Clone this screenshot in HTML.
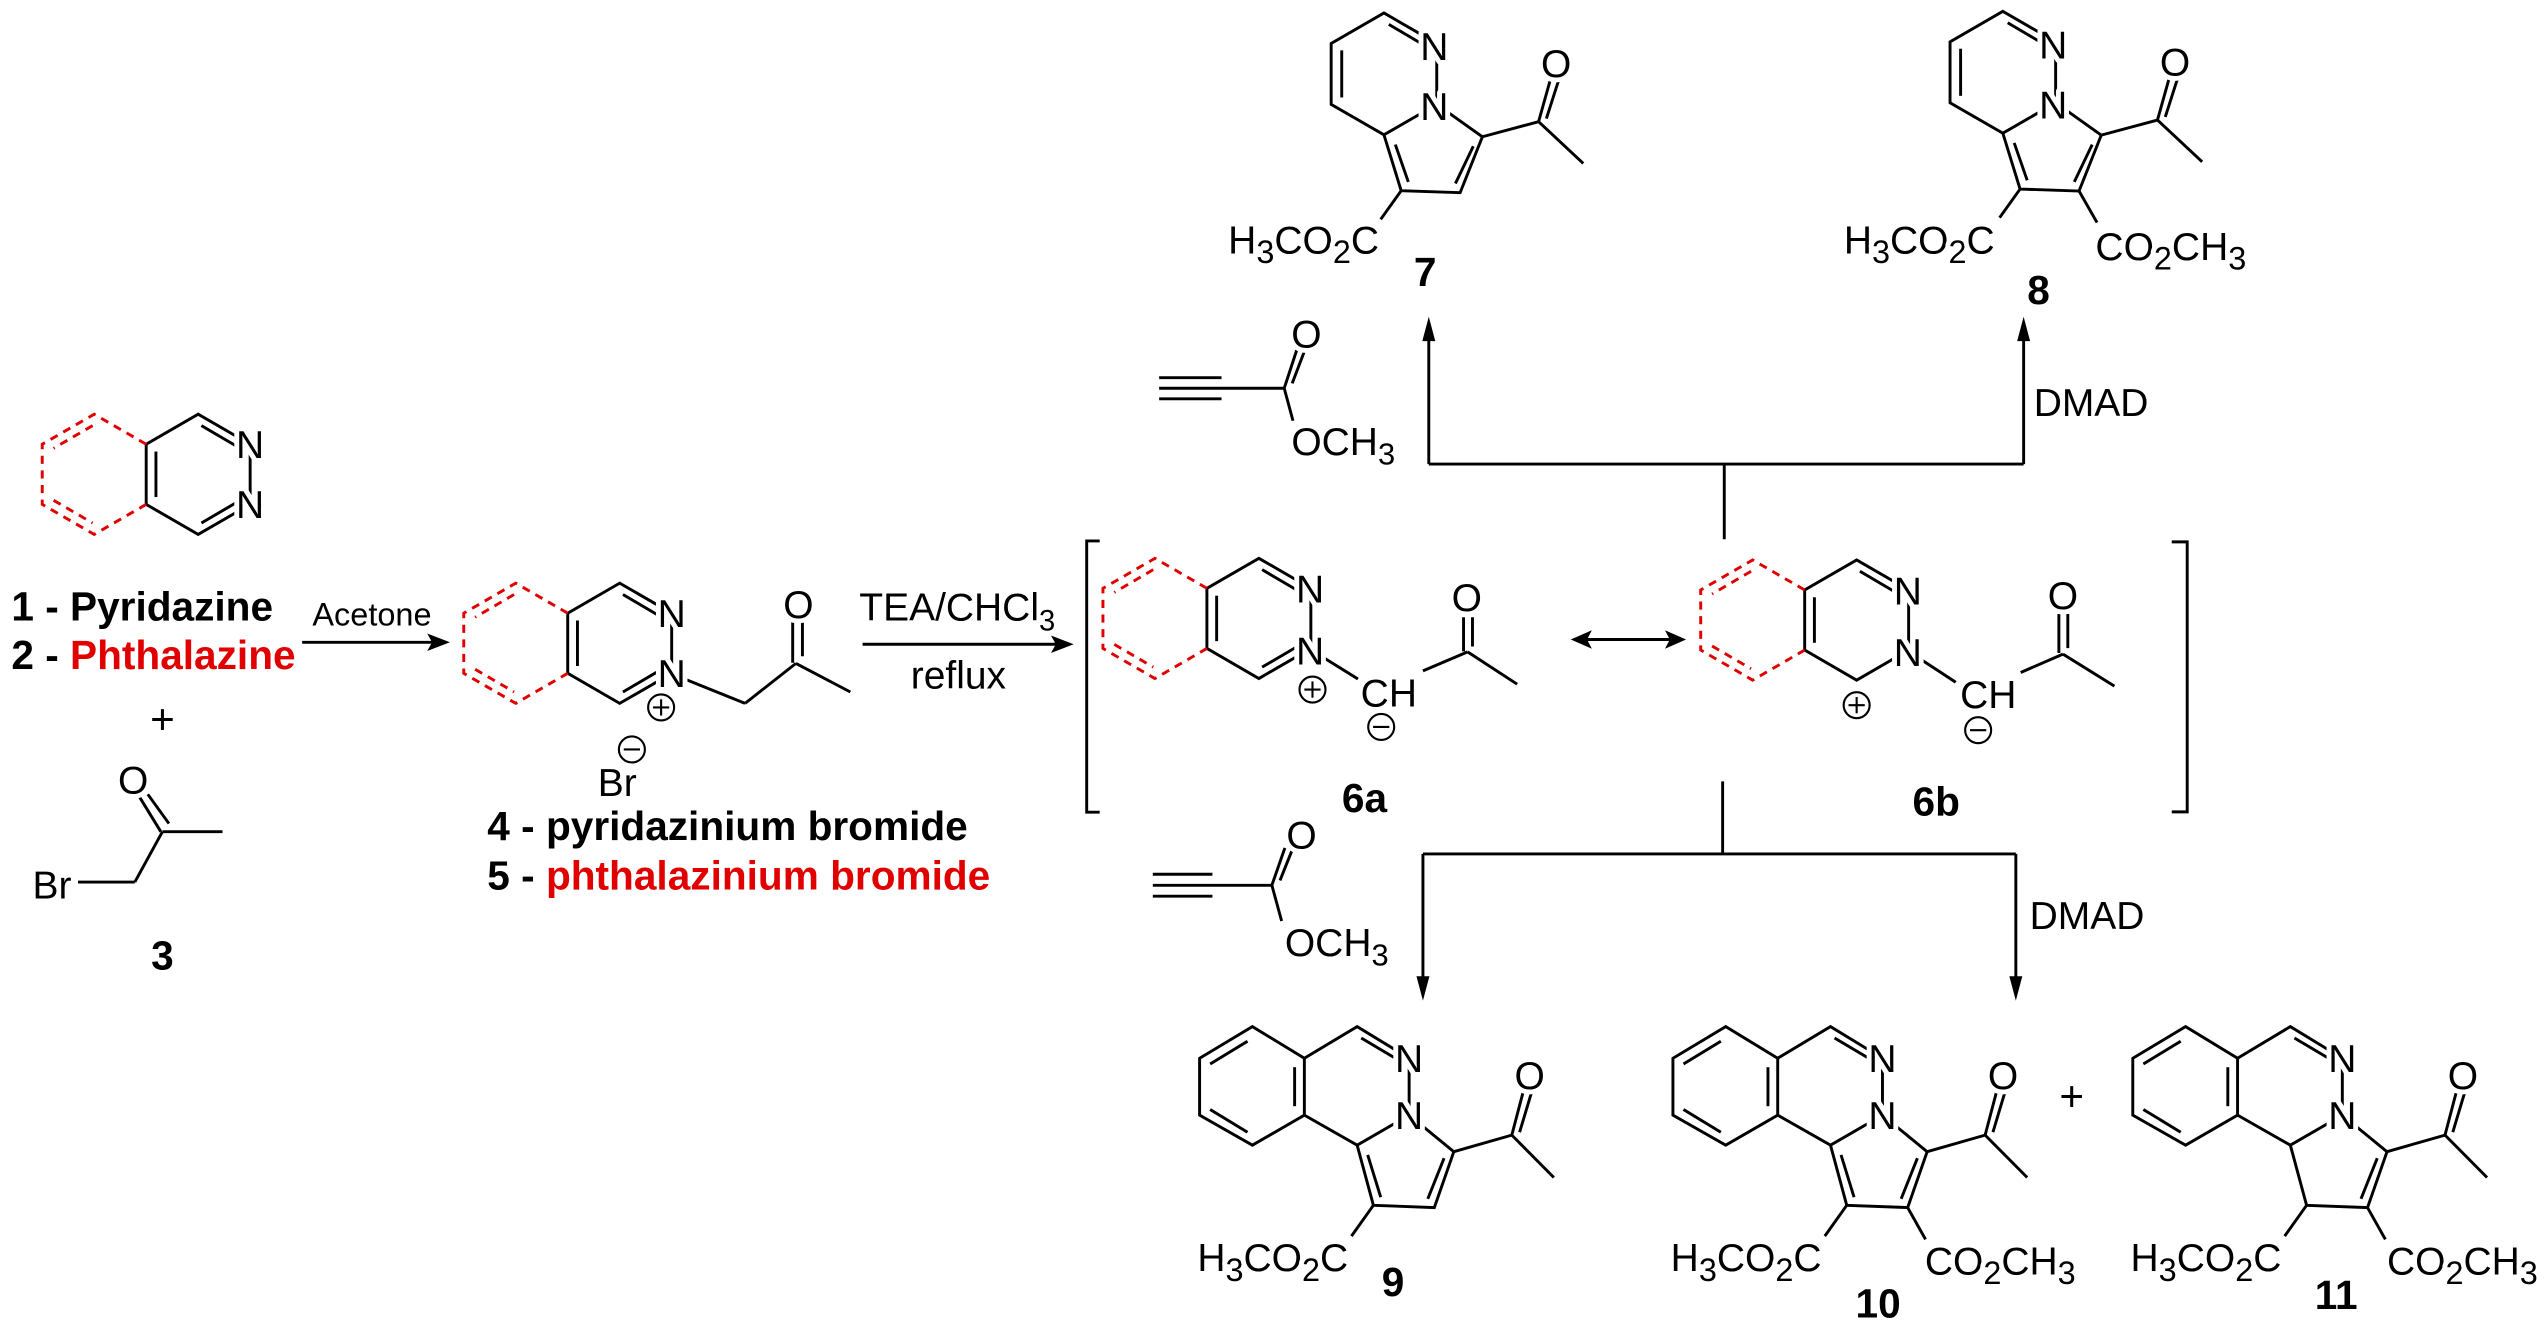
<!DOCTYPE html>
<html><head><meta charset="utf-8"><style>
html,body{margin:0;padding:0;background:#fff;}
svg{display:block;}
text{font-family:"Liberation Sans",Arial,sans-serif;font-size:24px;fill:#000;}
.h{paint-order:stroke;stroke:#fff;stroke-width:6px;stroke-linejoin:round;}
.b{font-weight:bold;font-size:25px;}
.r{fill:#e00000;}
line,polyline{stroke:#000;stroke-width:1.8;fill:none;stroke-linecap:butt;}
.rd{stroke:#e00000;stroke-dasharray:5,4;stroke-width:1.8;fill:none;}
.c{fill:#fff;stroke:#000;stroke-width:1.3;}
</style></head><body>
<svg width="2547" height="1338" viewBox="0 0 1568 823.7" preserveAspectRatio="none" xmlns="http://www.w3.org/2000/svg">

<!-- Compound 1/2 ring -->
<g id="ring1">
<polyline points="154,273.5 122,255 90,273.5 90,310.5 122,329 154,310.5"/>
<line x1="154" y1="273.5" x2="154" y2="310.5"/>
<line x1="124" y1="262" x2="147" y2="275.5"/><line x1="147" y1="308.5" x2="124" y2="322"/>
<line x1="96" y1="278" x2="96" y2="306"/>
<polyline class="rd" points="90,273.5 58,255 26,273.5 26,310.5 58,329 90,310.5"/>
<line class="rd" x1="57" y1="262" x2="33" y2="276"/><line class="rd" x1="33" y1="308" x2="57" y2="322"/>
<text class="h" x="154" y="282" text-anchor="middle">N</text>
<text class="h" x="154" y="319" text-anchor="middle">N</text>
</g>
<text class="b" x="7" y="382">1 - Pyridazine</text>
<text class="b" x="7" y="412">2 - <tspan class="r">Phthalazine</tspan></text>
<text x="100" y="452" text-anchor="middle" style="font-size:26px">+</text>

<!-- bromoacetone -->
<line x1="100" y1="512" x2="137" y2="512"/>
<line x1="100" y1="512" x2="83" y2="543"/>
<line x1="83" y1="543" x2="48" y2="543"/>
<line x1="99" y1="512" x2="85.5" y2="490"/>
<line x1="104" y1="507" x2="91" y2="489"/>
<text class="h" x="82" y="488.5" text-anchor="middle">O</text>
<text class="h" x="32" y="553" text-anchor="middle">Br</text>
<text class="b" x="100" y="597" text-anchor="middle">3</text>

<!-- Acetone arrow -->
<text x="229" y="385" text-anchor="middle" style="font-size:20px">Acetone</text>
<line x1="186" y1="395.4" x2="268" y2="395.4"/>
<polygon points="277,395.4 263,390 266,395.4 263,400.8"/>

<!-- Compound 4 -->
<g transform="translate(259.5,104)">
<polyline points="154,273.5 122,255 90,273.5 90,310.5 122,329 154,310.5"/>
<line x1="154" y1="273.5" x2="154" y2="310.5"/>
<line x1="124" y1="262" x2="147" y2="275.5"/><line x1="147" y1="308.5" x2="124" y2="322"/>
<line x1="96" y1="278" x2="96" y2="306"/>
<polyline class="rd" points="90,273.5 58,255 26,273.5 26,310.5 58,329 90,310.5"/>
<line class="rd" x1="57" y1="262" x2="33" y2="276"/><line class="rd" x1="33" y1="308" x2="57" y2="322"/>
</g>
<line x1="414" y1="415" x2="458.7" y2="433"/>
<line x1="458.7" y1="433" x2="490" y2="408.4"/>
<line x1="490" y1="408.4" x2="523.5" y2="426"/>
<line x1="488" y1="408" x2="488" y2="381"/>
<line x1="494" y1="404" x2="494" y2="381"/>
<text class="h" x="413.5" y="386" text-anchor="middle">N</text>
<text class="h" x="413.5" y="423" text-anchor="middle">N</text>
<text class="h" x="491.5" y="380.5" text-anchor="middle">O</text>
<circle class="c" cx="407" cy="435.5" r="8"/><line x1="402" y1="435.5" x2="412" y2="435.5" style="stroke-width:1.3"/><line x1="407" y1="430.5" x2="407" y2="440.5" style="stroke-width:1.3"/>
<circle class="c" cx="389" cy="461.4" r="8"/><line x1="384" y1="461.4" x2="394" y2="461.4" style="stroke-width:1.3"/>
<text class="h" x="380" y="490" text-anchor="middle">Br</text>
<text class="b" x="300" y="517">4 - pyridazinium bromide</text>
<text class="b" x="300" y="547.5">5 - <tspan class="r">phthalazinium bromide</tspan></text>

<!-- TEA arrow -->
<text x="529" y="382">TEA/CHCl<tspan dy="6" style="font-size:18px">3</tspan></text>
<text x="590" y="424" text-anchor="middle">reflux</text>
<line x1="531" y1="396.6" x2="652" y2="396.6"/>
<polygon points="661,396.6 647,391.2 650,396.6 647,402"/>

<!-- Brackets -->
<polyline points="677,333 669,333 669,500 677,500"/>
<polyline points="1337,333.6 1346.5,333.6 1346.5,499.8 1337,499.8"/>

<!-- 6a -->
<g transform="translate(653,88.7)">
<polyline points="154,273.5 122,255 90,273.5 90,310.5 122,329 154,310.5"/>
<line x1="154" y1="273.5" x2="154" y2="310.5"/>
<line x1="124" y1="262" x2="147" y2="275.5"/><line x1="147" y1="308.5" x2="124" y2="322"/>
<line x1="96" y1="278" x2="96" y2="306"/>
<polyline class="rd" points="90,273.5 58,255 26,273.5 26,310.5 58,329 90,310.5"/>
<line class="rd" x1="57" y1="262" x2="33" y2="276"/><line class="rd" x1="33" y1="308" x2="57" y2="322"/>
</g>
<line x1="807" y1="400" x2="836" y2="418"/>
<line x1="876" y1="413" x2="903.5" y2="401.3"/>
<line x1="903.5" y1="401.3" x2="934" y2="421.2"/>
<line x1="901" y1="401" x2="901" y2="380"/>
<line x1="906.5" y1="398" x2="906.5" y2="380"/>
<text class="h" x="806.5" y="371" text-anchor="middle">N</text>
<text class="h" x="806.5" y="409" text-anchor="middle">N</text>
<text class="h" x="855" y="435" text-anchor="middle">CH</text>
<text class="h" x="903" y="376" text-anchor="middle">O</text>
<circle class="c" cx="808" cy="424.5" r="8"/><line x1="803" y1="424.5" x2="813" y2="424.5" style="stroke-width:1.3"/><line x1="808" y1="419.5" x2="808" y2="429.5" style="stroke-width:1.3"/>
<circle class="c" cx="850.3" cy="447.5" r="8"/><line x1="845.3" y1="447.5" x2="855.3" y2="447.5" style="stroke-width:1.3"/>
<text class="b" x="840" y="500" text-anchor="middle">6a</text>

<!-- double arrow -->
<line x1="975" y1="393.7" x2="1030" y2="393.7"/>
<polygon points="967,393.7 980,388 977,393.7 980,399.4"/>
<polygon points="1038,393.7 1025,388 1028,393.7 1025,399.4"/>

<!-- 6b -->
<g transform="translate(1021,89.7)">
<polyline points="154,273.5 122,255 90,273.5 90,310.5 122,329 154,310.5"/>
<line x1="154" y1="273.5" x2="154" y2="310.5"/>
<line x1="124" y1="262" x2="147" y2="275.5"/>
<line x1="96" y1="278" x2="96" y2="306"/>
<polyline class="rd" points="90,273.5 58,255 26,273.5 26,310.5 58,329 90,310.5"/>
<line class="rd" x1="57" y1="262" x2="33" y2="276"/><line class="rd" x1="33" y1="308" x2="57" y2="322"/>
</g>
<line x1="1175" y1="401" x2="1204" y2="420"/>
<line x1="1244" y1="414" x2="1270" y2="402.7"/>
<line x1="1270" y1="402.7" x2="1301.7" y2="422.4"/>
<line x1="1267.5" y1="402" x2="1267.5" y2="378"/>
<line x1="1273" y1="399" x2="1273" y2="378"/>
<text class="h" x="1174.5" y="372" text-anchor="middle">N</text>
<text class="h" x="1174.5" y="410" text-anchor="middle">N</text>
<text class="h" x="1224" y="436" text-anchor="middle">CH</text>
<text class="h" x="1270" y="375" text-anchor="middle">O</text>
<circle class="c" cx="1143" cy="434.1" r="8"/><line x1="1138" y1="434.1" x2="1148" y2="434.1" style="stroke-width:1.3"/><line x1="1143" y1="429.1" x2="1143" y2="439.1" style="stroke-width:1.3"/>
<circle class="c" cx="1217.8" cy="449.5" r="8"/><line x1="1212.8" y1="449.5" x2="1222.8" y2="449.5" style="stroke-width:1.3"/>
<text class="b" x="1192" y="502" text-anchor="middle">6b</text>

<!-- upper arrows -->
<line x1="1061.5" y1="332" x2="1061.5" y2="285.7"/>
<line x1="879.6" y1="285.7" x2="1245.8" y2="285.7"/>
<line x1="879.6" y1="285.7" x2="879.6" y2="205"/>
<line x1="1245.8" y1="285.7" x2="1245.8" y2="205"/>
<polygon points="879.6,195 875.6,210 883.6,210"/>
<polygon points="1245.8,195 1241.8,210 1249.8,210"/>
<text x="1252" y="256">DMAD</text>

<!-- top methyl propiolate -->
<line x1="713.6" y1="232.5" x2="752" y2="232.5"/>
<line x1="713.6" y1="239" x2="790.6" y2="239"/>
<line x1="713.6" y1="245.5" x2="752" y2="245.5"/>
<line x1="790.6" y1="239" x2="798.8" y2="214"/>
<line x1="795.5" y1="236" x2="803.5" y2="215"/>
<line x1="790.6" y1="239" x2="796" y2="259"/>
<text class="h" x="804.3" y="214" text-anchor="middle">O</text>
<text class="h" x="795" y="280">OCH<tspan dy="6" style="font-size:19px">3</tspan></text>

<!-- bottom methyl propiolate -->
<line x1="709.7" y1="538.2" x2="746.4" y2="538.2"/>
<line x1="709.7" y1="545" x2="783" y2="545"/>
<line x1="709.7" y1="551.7" x2="746.4" y2="551.7"/>
<line x1="783" y1="545" x2="791" y2="522"/>
<line x1="788" y1="542" x2="796" y2="522"/>
<line x1="783" y1="545" x2="789" y2="567"/>
<text class="h" x="801.3" y="522.5" text-anchor="middle">O</text>
<text class="h" x="791" y="588.5">OCH<tspan dy="6" style="font-size:19px">3</tspan></text>

<!-- lower arrows -->
<line x1="1060.5" y1="481" x2="1060.5" y2="525.7"/>
<line x1="876" y1="525.7" x2="1241" y2="525.7"/>
<line x1="876" y1="525.7" x2="876" y2="606"/>
<line x1="1241" y1="525.7" x2="1241" y2="606"/>
<polygon points="876,616 872,601 880,601"/>
<polygon points="1241,616 1237,601 1245,601"/>
<text x="1249.5" y="572">DMAD</text>

<!-- Compound 7 -->
<g id="c7">
<polyline points="884.5,26.75 852,8 819.5,26.75 819.5,64.25 852,83 884.5,64.25"/>
<line x1="884.5" y1="26.75" x2="884.5" y2="64.25"/>
<line x1="855" y1="15" x2="877" y2="28"/>
<line x1="826" y1="31" x2="826" y2="60"/>
<polyline points="884.5,64.25 912.6,84.2 898.9,118.6 862.6,117.4 852,83"/>
<line x1="907" y1="90" x2="896" y2="113"/>
<line x1="859" y1="89" x2="867" y2="112"/>
<line x1="912.6" y1="84.2" x2="947.2" y2="74.9"/>
<line x1="947.2" y1="74.9" x2="974.7" y2="100.6"/>
<line x1="947.2" y1="74.9" x2="955" y2="47"/>
<line x1="952" y1="73" x2="960" y2="48"/>
<line x1="862.6" y1="117.4" x2="850" y2="135"/>
<text class="h" x="883" y="37" text-anchor="middle">N</text>
<text class="h" x="883" y="74" text-anchor="middle">N</text>
<text class="h" x="958" y="47.5" text-anchor="middle">O</text>
<text class="h" x="849" y="156" text-anchor="end">H<tspan dy="6" style="font-size:20px">3</tspan><tspan dy="-6">CO</tspan><tspan dy="6" style="font-size:20px">2</tspan><tspan dy="-6">C</tspan></text>
</g>
<text class="b" x="877.4" y="176" text-anchor="middle">7</text>

<!-- Compound 8 -->
<g transform="translate(381,-1)">
<polyline points="884.5,26.75 852,8 819.5,26.75 819.5,64.25 852,83 884.5,64.25"/>
<line x1="884.5" y1="26.75" x2="884.5" y2="64.25"/>
<line x1="855" y1="15" x2="877" y2="28"/>
<line x1="826" y1="31" x2="826" y2="60"/>
<polyline points="884.5,64.25 912.6,84.2 898.9,118.6 862.6,117.4 852,83"/>
<line x1="907" y1="90" x2="896" y2="113"/>
<line x1="859" y1="89" x2="867" y2="112"/>
<line x1="912.6" y1="84.2" x2="947.2" y2="74.9"/>
<line x1="947.2" y1="74.9" x2="974.7" y2="100.6"/>
<line x1="947.2" y1="74.9" x2="955" y2="47"/>
<line x1="952" y1="73" x2="960" y2="48"/>
<line x1="862.6" y1="117.4" x2="850" y2="135"/>
<line x1="898.9" y1="118.6" x2="910" y2="138"/>
<text class="h" x="883" y="37" text-anchor="middle">N</text>
<text class="h" x="883" y="74" text-anchor="middle">N</text>
<text class="h" x="958" y="47.5" text-anchor="middle">O</text>
<text class="h" x="847" y="157" text-anchor="end">H<tspan dy="6" style="font-size:20px">3</tspan><tspan dy="-6">CO</tspan><tspan dy="6" style="font-size:20px">2</tspan><tspan dy="-6">C</tspan></text>
<text class="h" x="909" y="161">CO<tspan dy="6" style="font-size:20px">2</tspan><tspan dy="-6">CH</tspan><tspan dy="6" style="font-size:20px">3</tspan></text>
</g>
<text class="b" x="1255" y="187" text-anchor="middle">8</text>

<!-- Compound 9 -->
<g id="c9">
<polyline points="803,651.5 771,632 738.5,651.5 738.5,686.5 771,705 803,686.5 803,651.5"/>
<line x1="745" y1="655" x2="768" y2="641"/>
<line x1="797" y1="657" x2="797" y2="681"/>
<line x1="745" y1="683" x2="768" y2="697"/>
<polyline points="803,651.5 835.5,632 867.5,651.5 867.5,686.5 835.5,705 803,686.5"/>
<line x1="838" y1="639" x2="859" y2="651.5"/>
<polyline points="867.5,686.5 895,709 883,743.4 845.5,742 835.5,705"/>
<line x1="889" y1="713" x2="879" y2="738"/>
<line x1="842" y1="711" x2="850" y2="737"/>
<line x1="895" y1="709" x2="930.7" y2="698.8"/>
<line x1="930.7" y1="698.8" x2="956.6" y2="724.9"/>
<line x1="930.7" y1="698.8" x2="938" y2="671"/>
<line x1="935.5" y1="697" x2="943" y2="672"/>
<line x1="845.5" y1="742" x2="832" y2="761"/>
<text class="h" x="867.5" y="660" text-anchor="middle">N</text>
<text class="h" x="867.5" y="695" text-anchor="middle">N</text>
<text class="h" x="941.7" y="670.5" text-anchor="middle">O</text>
<text class="h" x="830" y="782.5" text-anchor="end">H<tspan dy="6" style="font-size:20px">3</tspan><tspan dy="-6">CO</tspan><tspan dy="6" style="font-size:20px">2</tspan><tspan dy="-6">C</tspan></text>
</g>
<text class="b" x="857.6" y="798" text-anchor="middle">9</text>

<!-- Compound 10 -->
<g transform="translate(291.4,0)">
<polyline points="803,651.5 771,632 738.5,651.5 738.5,686.5 771,705 803,686.5 803,651.5"/>
<line x1="745" y1="655" x2="768" y2="641"/>
<line x1="797" y1="657" x2="797" y2="681"/>
<line x1="745" y1="683" x2="768" y2="697"/>
<polyline points="803,651.5 835.5,632 867.5,651.5 867.5,686.5 835.5,705 803,686.5"/>
<line x1="838" y1="639" x2="859" y2="651.5"/>
<polyline points="867.5,686.5 895,709 883,743.4 845.5,742 835.5,705"/>
<line x1="889" y1="713" x2="879" y2="738"/>
<line x1="842" y1="711" x2="850" y2="737"/>
<line x1="895" y1="709" x2="930.7" y2="698.8"/>
<line x1="930.7" y1="698.8" x2="956.6" y2="724.9"/>
<line x1="930.7" y1="698.8" x2="938" y2="671"/>
<line x1="935.5" y1="697" x2="943" y2="672"/>
<line x1="845.5" y1="742" x2="832" y2="761"/>
<line x1="883" y1="743.4" x2="894" y2="763"/>
<text class="h" x="867.5" y="660" text-anchor="middle">N</text>
<text class="h" x="867.5" y="695" text-anchor="middle">N</text>
<text class="h" x="941.7" y="670.5" text-anchor="middle">O</text>
<text class="h" x="830" y="782.5" text-anchor="end">H<tspan dy="6" style="font-size:20px">3</tspan><tspan dy="-6">CO</tspan><tspan dy="6" style="font-size:20px">2</tspan><tspan dy="-6">C</tspan></text>
<text class="h" x="893.6" y="784.5">CO<tspan dy="6" style="font-size:20px">2</tspan><tspan dy="-6">CH</tspan><tspan dy="6" style="font-size:20px">3</tspan></text>
</g>
<text class="b" x="1156.2" y="811" text-anchor="middle">10</text>
<text x="1275.4" y="684" text-anchor="middle" style="font-size:26px">+</text>

<!-- Compound 11 -->
<g transform="translate(574.5,0)">
<polyline points="803,651.5 771,632 738.5,651.5 738.5,686.5 771,705 803,686.5 803,651.5"/>
<line x1="745" y1="655" x2="768" y2="641"/>
<line x1="797" y1="657" x2="797" y2="681"/>
<line x1="745" y1="683" x2="768" y2="697"/>
<polyline points="803,651.5 835.5,632 867.5,651.5 867.5,686.5 835.5,705 803,686.5"/>
<line x1="838" y1="639" x2="859" y2="651.5"/>
<polyline points="867.5,686.5 895,709 883,743.4 845.5,742 835.5,705"/>
<line x1="889" y1="713" x2="879" y2="738"/>
<line x1="895" y1="709" x2="930.7" y2="698.8"/>
<line x1="930.7" y1="698.8" x2="956.6" y2="724.9"/>
<line x1="930.7" y1="698.8" x2="938" y2="671"/>
<line x1="935.5" y1="697" x2="943" y2="672"/>
<line x1="845.5" y1="742" x2="832" y2="761"/>
<line x1="883" y1="743.4" x2="894" y2="763"/>
<text class="h" x="867.5" y="660" text-anchor="middle">N</text>
<text class="h" x="867.5" y="695" text-anchor="middle">N</text>
<text class="h" x="941.7" y="670.5" text-anchor="middle">O</text>
<text class="h" x="830" y="782.5" text-anchor="end">H<tspan dy="6" style="font-size:20px">3</tspan><tspan dy="-6">CO</tspan><tspan dy="6" style="font-size:20px">2</tspan><tspan dy="-6">C</tspan></text>
<text class="h" x="895" y="784.5">CO<tspan dy="6" style="font-size:20px">2</tspan><tspan dy="-6">CH</tspan><tspan dy="6" style="font-size:20px">3</tspan></text>
</g>
<text class="b" x="1438.2" y="806" text-anchor="middle">11</text>

</svg>
</body></html>
